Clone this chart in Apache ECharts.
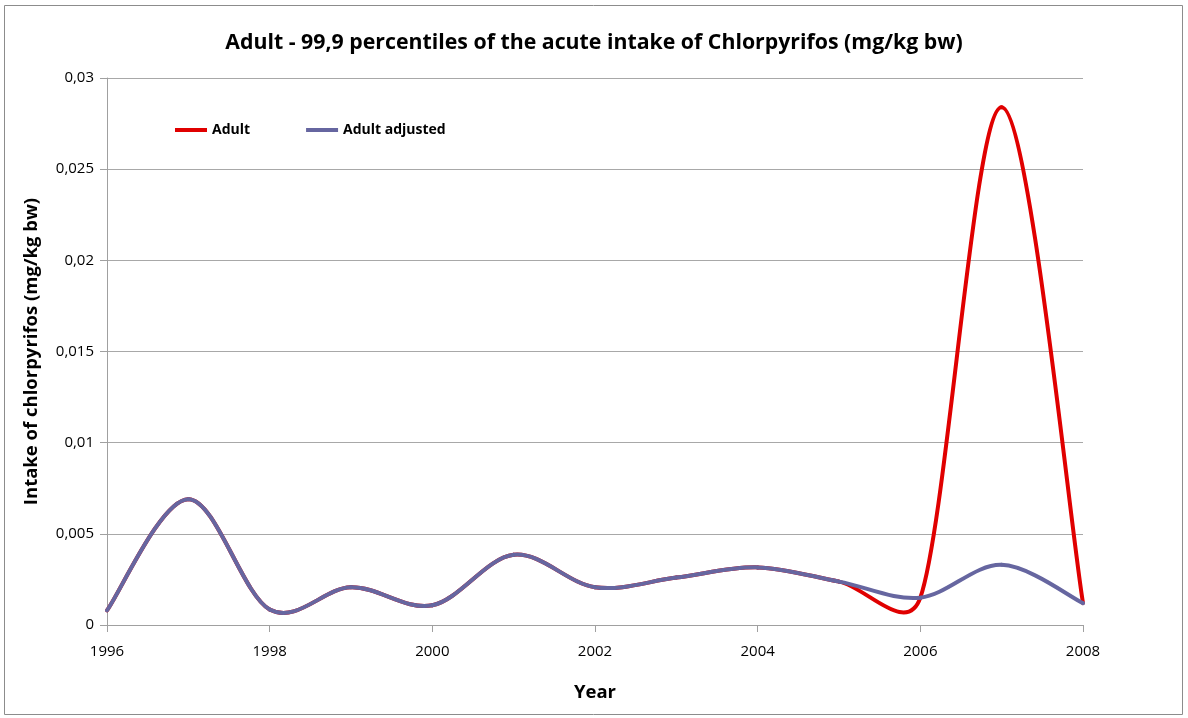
<!DOCTYPE html>
<html><head><meta charset="utf-8">
<script src="https://cdn.jsdelivr.net/npm/echarts@6/dist/echarts.min.js"></script>
<style>html,body{margin:0;padding:0;background:#fff}#c{width:1188px;height:718px}</style>
</head><body><div id="c"></div>
<script>
const years = [1996,1997,1998,1999,2000,2001,2002,2003,2004,2005,2006,2007,2008];
const adult = [0.0008,0.0069,0.00085,0.00207,0.00108,0.00385,0.00207,0.0026,0.00316,0.00238,0.0015,0.0284,0.0012];
const adultAdjusted = [0.0008,0.0069,0.00085,0.00207,0.00108,0.00385,0.00207,0.0026,0.00316,0.00238,0.0015,0.0033,0.0012];
const yTicks = [0,0.005,0.01,0.015,0.02,0.025,0.03];
const xTicks = [1996,1998,2000,2002,2004,2006,2008];
const FONT = '"Open Sans", "Noto Sans", sans-serif';
const chart = echarts.init(document.getElementById('c'));
const fmt = v => String(+v.toFixed(3)).replace('.', ',');

// Excel-like smoothing: Catmull-Rom tangents (1/6), arm capped at half the segment length
function smoothRenderer(values, color){
  return function(params, api){
    const i = params.dataIndex;
    if (i >= years.length - 1) return null;
    const P = years.map((y,k)=>api.coord([y, values[k]]));
    const p0 = P[i-1] || P[i], p1 = P[i], p2 = P[i+1], p3 = P[i+2] || P[i+1];
    const seg = Math.hypot(p2[0]-p1[0], p2[1]-p1[1]);
    function arm(a, b){
      let vx = (b[0]-a[0])/6, vy = (b[1]-a[1])/6;
      const L = Math.hypot(vx, vy), cap = seg*0.5;
      if (L > cap && L > 0) { vx *= cap/L; vy *= cap/L; }
      return [vx, vy];
    }
    const a1 = arm(p0, p2), a2 = arm(p1, p3);
    return {type:'bezierCurve',
      shape:{x1:p1[0],y1:p1[1],x2:p2[0],y2:p2[1],
        cpx1:p1[0]+a1[0],cpy1:p1[1]+a1[1],cpx2:p2[0]-a2[0],cpy2:p2[1]-a2[1]},
      style:{stroke:color,lineWidth:4,fill:null,lineCap:'round',lineJoin:'round'},
      silent:true};
  };
}
const RED = '#e00000', BLUE = '#6666a0';
chart.setOption({
  animation:false,
  title:{text:'Adult - 99,9 percentiles of the acute intake of Chlorpyrifos (mg/kg bw)',left:'center',top:27,
    textStyle:{fontFamily:FONT,fontSize:21.3,fontWeight:'bold',color:'#000'}},
  graphic:[{type:'rect',shape:{x:4.5,y:5.5,width:1178,height:709},style:{fill:'none',stroke:'#8c8c8c',lineWidth:1},silent:true}],
  legend:{left:170,top:118,itemWidth:32,itemHeight:4,itemGap:56,icon:'rect',
    textStyle:{fontFamily:FONT,fontSize:14,fontWeight:'bold',color:'#000'},
    data:[{name:'Adult',itemStyle:{color:RED}},{name:'Adult adjusted',itemStyle:{color:BLUE}}]},
  grid:{left:107,right:105,top:78,bottom:93,containLabel:false},
  xAxis:{type:'value',min:xTicks[0],max:xTicks[xTicks.length-1],interval:2,
    name:'Year',nameLocation:'middle',nameGap:58,
    nameTextStyle:{fontFamily:FONT,fontSize:18.5,fontWeight:'bold',color:'#000'},
    axisLine:{show:true,lineStyle:{color:'#a0a0a0'}},
    axisTick:{show:true,length:7,lineStyle:{color:'#a0a0a0'}},
    axisLabel:{fontFamily:FONT,fontSize:15,color:'#000',margin:19,formatter:v=>String(v)},
    splitLine:{show:false}},
  yAxis:{type:'value',min:yTicks[0],max:yTicks[yTicks.length-1],interval:0.005,
    name:'Intake of chlorpyrifos (mg/kg bw)',nameLocation:'middle',nameGap:66,nameRotate:90,
    nameTextStyle:{fontFamily:FONT,fontSize:18.5,fontWeight:'bold',color:'#000'},
    axisLine:{show:true,lineStyle:{color:'#a0a0a0'}},
    axisTick:{show:true,length:7,inside:false,lineStyle:{color:'#a0a0a0'}},
    axisLabel:{fontFamily:FONT,fontSize:15,color:'#000',margin:13,formatter:fmt},
    splitLine:{show:true,lineStyle:{color:'#a8a8a8'}}},
  series:[
    {name:'Adult',type:'custom',renderItem:smoothRenderer(adult, RED),itemStyle:{color:RED},
      encode:{x:0,y:1},data:years.map((y,i)=>[y,adult[i]])},
    {name:'Adult adjusted',type:'custom',renderItem:smoothRenderer(adultAdjusted, BLUE),itemStyle:{color:BLUE},
      encode:{x:0,y:1},data:years.map((y,i)=>[y,adultAdjusted[i]])}
  ]
});
</script></body></html>
